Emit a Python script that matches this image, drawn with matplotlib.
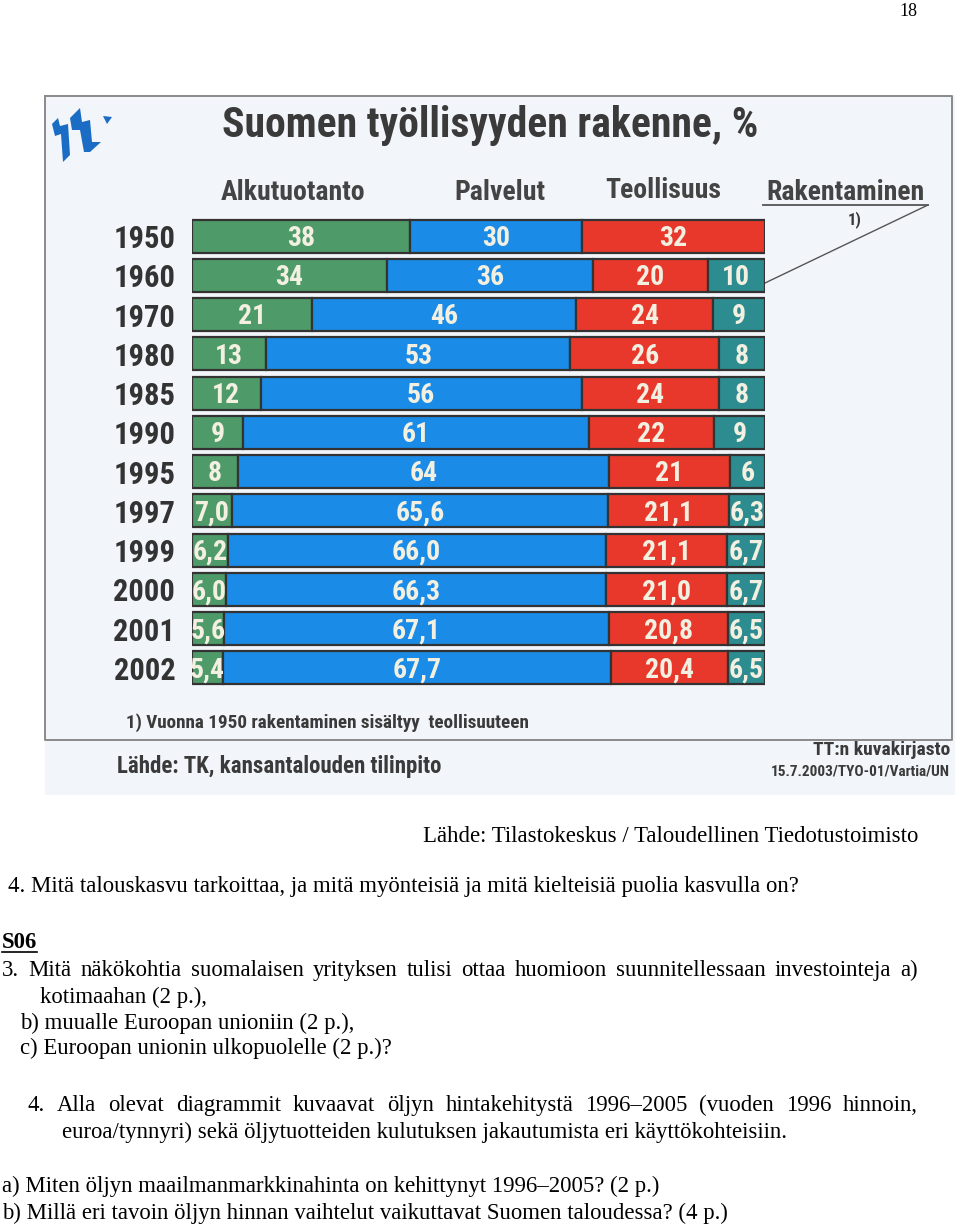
import numpy as np
import matplotlib
matplotlib.use('Agg')
import matplotlib.pyplot as plt
from matplotlib import font_manager
from matplotlib.patches import Rectangle, Polygon

# --- data --------------------------------------------------------------
years = ['1950', '1960', '1970', '1980', '1985', '1990', '1995',
         '1997', '1999', '2000', '2001', '2002']
alkutuotanto = [38, 34, 21, 13, 12, 9, 8, 7.0, 6.2, 6.0, 5.6, 5.4]
palvelut = [30, 36, 46, 53, 56, 61, 64, 65.6, 66.0, 66.3, 67.1, 67.7]
teollisuus = [32, 20, 24, 26, 24, 22, 21, 21.1, 21.1, 21.0, 20.8, 20.4]
rakentaminen = [0, 10, 9, 8, 8, 9, 6, 6.3, 6.7, 6.7, 6.5, 6.5]
headers = ['Alkutuotanto', 'Palvelut', 'Teollisuus', 'Rakentaminen']

# fonts: narrow bold sans for the chart, serif for the page text
names = set(f.name for f in font_manager.fontManager.ttflist)
NARROW = 'Liberation Sans'
for cand in ['Roboto Condensed', 'PT Sans Narrow', 'Archivo Narrow']:
    if cand in names:
        NARROW = cand
        break
SERIF = 'Liberation Serif'

fig = plt.figure(figsize=(9.6, 12.26), dpi=100)
fig.patch.set_facecolor('white')

# page axes in pixel units
page = fig.add_axes([0, 0, 1, 1])
page.set_xlim(0, 960)
page.set_ylim(1226, 0)
page.axis('off')

# chart panel
page.add_patch(Rectangle((45, 95), 910, 700, facecolor='#f2f5f9', edgecolor='none', zorder=0))
page.plot([45, 952, 952, 45, 45], [96, 96, 740, 740, 96], color='#8a8a8a', lw=1.4, zorder=1)

# logo (rough shapes)
logo_col = '#1b6cc4'
page.add_patch(Polygon([(52, 124), (58, 118), (60, 126), (68, 124), (70, 155), (63, 162),
                        (61, 134), (55, 136)], closed=True, facecolor=logo_col, edgecolor='none'))
page.add_patch(Polygon([(70, 118), (80, 108), (82, 122), (90, 120), (92, 142), (101, 142),
                        (90, 152), (84, 152), (80, 130), (72, 130)], closed=True,
                       facecolor=logo_col, edgecolor='none'))
page.add_patch(Polygon([(103, 116), (112, 117), (107, 124)], closed=True,
                       facecolor=logo_col, edgecolor='none'))

dark = '#3a3a3a'
page.text(490, 137, 'Suomen työllisyyden rakenne, %', family=NARROW, weight='bold',
          fontsize=30, color=dark, ha='center', va='baseline')

head_x = [293, 500, 663, 846]
head_y = [200, 200, 198, 200]
for hx, hy, h in zip(head_x, head_y, headers):
    page.text(hx, hy, h, family=NARROW, weight='bold', fontsize=20, color='#444444',
              ha='center', va='baseline')
# underline + leader line for Rakentaminen
page.plot([763, 928], [205, 205], color='#555555', lw=1.3)
page.plot([928, 765], [205, 283], color='#555555', lw=1.0)
page.text(855, 224, '1)', family=NARROW, weight='bold', fontsize=12, color=dark,
          ha='center', va='baseline')

page.text(126, 728, '1) Vuonna 1950 rakentaminen sisältyy  teollisuuteen', family=NARROW,
          weight='bold', fontsize=13.8, color=dark, ha='left', va='baseline')
page.text(117, 773, 'Lähde: TK, kansantalouden tilinpito', family=NARROW, weight='bold',
          fontsize=16.5, color=dark, ha='left', va='baseline')
page.text(950, 755, 'TT:n kuvakirjasto', family=NARROW, weight='bold', fontsize=14,
          color=dark, ha='right', va='baseline')
page.text(950, 775, '15.7.2003/TYO-01/Vartia/UN', family=NARROW, weight='bold',
          fontsize=11, color=dark, ha='right', va='baseline')

# --- stacked bars ---------------------------------------------------------
ax = fig.add_axes([192 / 960, 1 - 687.6 / 1226, 573 / 960, (687.6 - 216.4) / 1226])
ax.patch.set_alpha(0)
series = [alkutuotanto, palvelut, teollisuus, rakentaminen]
colors = ['#4e9b69', '#1a8be6', '#e8382c', '#2d8c90']
vals = np.array(series, dtype=float)
totals = vals.sum(axis=0)
shares = vals / totals * 100
ypos = np.arange(len(years))
left = np.zeros(len(years))
for s, (row, raw) in enumerate(zip(shares, vals)):
    mask = row > 0
    ax.barh(ypos[mask], row[mask], left=left[mask], height=0.84, color=colors[s],
            edgecolor='#333333', linewidth=1.6)
    for i in np.where(mask)[0]:
        if int(years[i]) >= 1997:
            lab = f'{raw[i]:.1f}'.replace('.', ',')
        else:
            lab = f'{raw[i]:.0f}'
        ax.text(left[i] + row[i] / 2, ypos[i] - 0.02, lab, family=NARROW, weight='bold',
                fontsize=20, color='#f3f0e2', ha='center', va='center_baseline')
    left = left + row

ax.set_xlim(0, 100)
ax.set_ylim(len(years) - 0.5, -0.5)
ax.set_yticks(ypos)
ax.set_yticklabels(years, family=NARROW, weight='bold', fontsize=22, color='#333333')
ax.tick_params(axis='y', length=0, pad=12)
ax.set_xticks([])
for sp in ax.spines.values():
    sp.set_visible(False)

# --- page text ------------------------------------------------------------
BODY = 16.4
renderer = fig.canvas.get_renderer()


def body(x, y, s, ha='left', **kw):
    return page.text(x, y, s, family=SERIF, fontsize=BODY, ha=ha, va='baseline', **kw)


def justify(text, x0, x1, y):
    words = text.split()
    objs = [body(0, y, w) for w in words]
    widths = [o.get_window_extent(renderer).width for o in objs]
    gap = (x1 - x0 - sum(widths)) / (len(words) - 1)
    x = x0
    for o, w in zip(objs, widths):
        o.set_x(x)
        x += w + gap


page.text(917, 16, '18', family=SERIF, fontsize=13, ha='right', va='baseline')
body(918, 842, 'Lähde: Tilastokeskus / Taloudellinen Tiedotustoimisto', ha='right')
body(8, 892, '4. Mitä talouskasvu tarkoittaa, ja mitä myönteisiä ja mitä kielteisiä '
     'puolia kasvulla on?')
s06 = body(2, 948, 'S06', weight='bold')
w06 = s06.get_window_extent(renderer).width
page.plot([2, 2 + w06], [952, 952], color='black', lw=1.2)
justify('3. Mitä näkökohtia suomalaisen yrityksen tulisi ottaa huomioon suunnitellessaan '
        'investointeja a)', 2, 918, 976)
body(40, 1003, 'kotimaahan (2 p.),')
body(20, 1029, 'b) muualle Euroopan unioniin (2 p.),')
body(20, 1054, 'c) Euroopan unionin ulkopuolelle (2 p.)?')
justify('4. Alla olevat diagrammit kuvaavat öljyn hintakehitystä 1996–2005 (vuoden 1996 '
        'hinnoin,', 28, 918, 1111)
body(62, 1138, 'euroa/tynnyri) sekä öljytuotteiden kulutuksen jakautumista eri '
     'käyttökohteisiin.')
body(2, 1192, 'a) Miten öljyn maailmanmarkkinahinta on kehittynyt 1996–2005? (2 p.)')
body(2, 1219, 'b) Millä eri tavoin öljyn hinnan vaihtelut vaikuttavat Suomen '
     'taloudessa? (4 p.)')

fig.savefig('out.png', dpi=100)
